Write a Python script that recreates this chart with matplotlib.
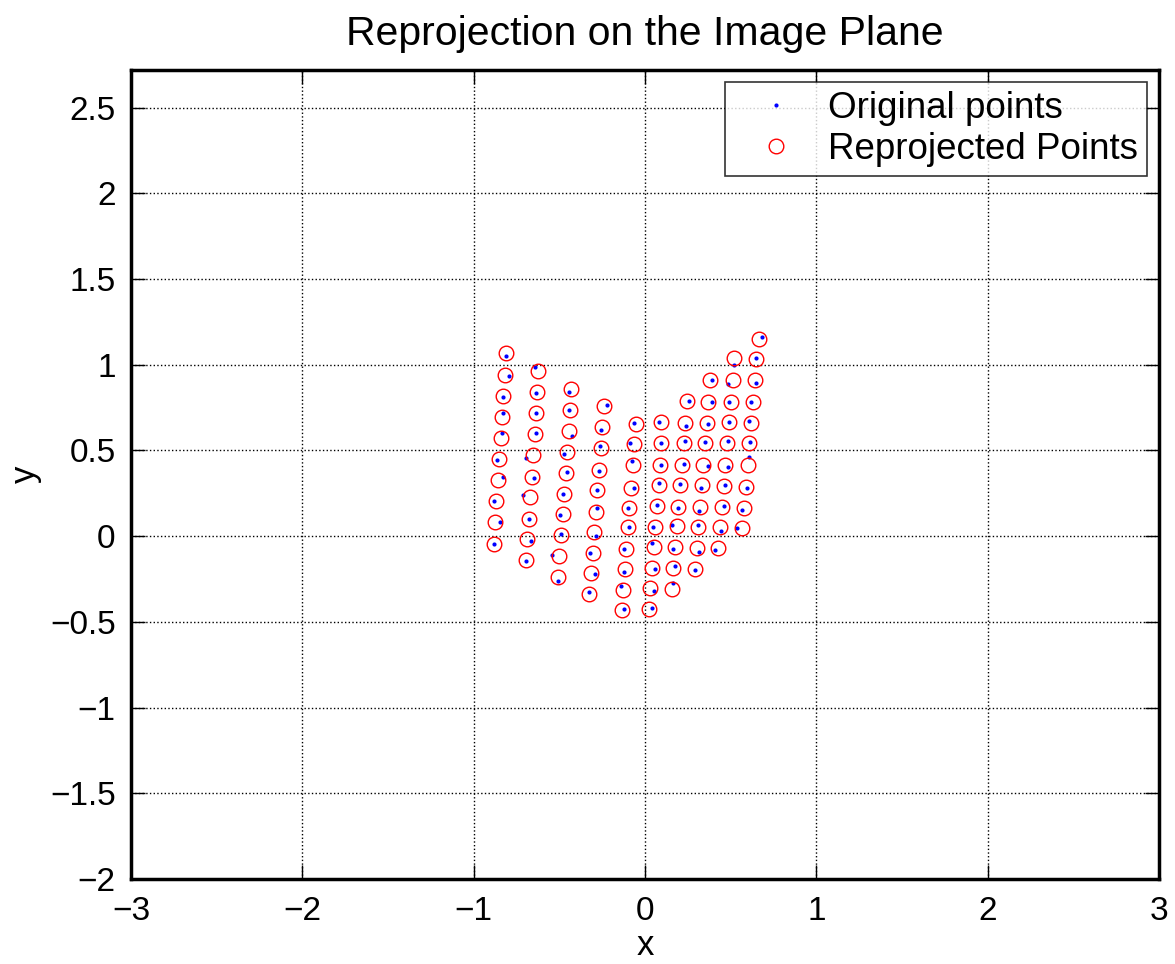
import numpy as np
import matplotlib.pyplot as plt

# reprojected points (red circles), column by column
circ_x = [
    -0.810, -0.818, -0.826, -0.834, -0.841, -0.850, -0.857, -0.867, -0.875, -0.882,
    -0.622, -0.628, -0.636, -0.643, -0.653, -0.661, -0.671, -0.676, -0.686, -0.694,
    -0.430, -0.437, -0.445, -0.457, -0.464, -0.471, -0.480, -0.492, -0.501, -0.509,
    -0.239, -0.251, -0.258, -0.267, -0.280, -0.286, -0.296, -0.303, -0.313, -0.325,
    -0.054, -0.064, -0.070, -0.080, -0.092, -0.101, -0.111, -0.118, -0.127, -0.136,
    0.095, 0.093, 0.087, 0.080, 0.070, 0.060, 0.051, 0.041, 0.031, 0.023,
    0.243, 0.235, 0.227, 0.214, 0.206, 0.194, 0.185, 0.177, 0.165, 0.157,
    0.379, 0.369, 0.362, 0.352, 0.340, 0.334, 0.321, 0.311, 0.303, 0.293,
    0.519, 0.511, 0.500, 0.490, 0.478, 0.466, 0.459, 0.451, 0.439, 0.427,
    0.663, 0.645, 0.640, 0.628, 0.620, 0.608, 0.599, 0.589, 0.579, 0.567,
]
circ_y = [
    1.069, 0.943, 0.818, 0.696, 0.573, 0.449, 0.327, 0.204, 0.083, -0.043,
    0.964, 0.841, 0.719, 0.595, 0.471, 0.346, 0.226, 0.103, -0.017, -0.138,
    0.861, 0.739, 0.614, 0.492, 0.371, 0.247, 0.127, 0.006, -0.117, -0.237,
    0.760, 0.636, 0.513, 0.389, 0.268, 0.142, 0.025, -0.097, -0.216, -0.338,
    0.655, 0.535, 0.414, 0.284, 0.165, 0.051, -0.072, -0.191, -0.315, -0.431,
    0.665, 0.541, 0.416, 0.301, 0.177, 0.052, -0.064, -0.187, -0.305, -0.422,
    0.787, 0.663, 0.542, 0.418, 0.297, 0.173, 0.057, -0.066, -0.187, -0.309,
    0.910, 0.785, 0.663, 0.544, 0.414, 0.297, 0.173, 0.054, -0.068, -0.191,
    1.038, 0.911, 0.783, 0.665, 0.541, 0.414, 0.292, 0.171, 0.051, -0.070,
    1.153, 1.034, 0.910, 0.781, 0.659, 0.542, 0.414, 0.287, 0.167, 0.048,
]

# original points (blue dots)
orig_x = [
    -0.812, -0.793, -0.826, -0.826, -0.836, -0.861, -0.830, -0.879, -0.845, -0.879,
    -0.640, -0.634, -0.636, -0.637, -0.692, -0.649, -0.715, -0.675, -0.663, -0.696,
    -0.441, -0.441, -0.427, -0.471, -0.453, -0.478, -0.494, -0.492, -0.542, -0.507,
    -0.223, -0.257, -0.262, -0.267, -0.282, -0.280, -0.287, -0.321, -0.290, -0.325,
    -0.064, -0.087, -0.078, -0.066, -0.101, -0.092, -0.122, -0.121, -0.142, -0.122,
    0.083, 0.093, 0.095, 0.083, 0.072, 0.045, 0.043, 0.060, 0.051, 0.041,
    0.258, 0.239, 0.233, 0.227, 0.206, 0.191, 0.159, 0.162, 0.175, 0.162,
    0.392, 0.392, 0.366, 0.352, 0.367, 0.327, 0.317, 0.311, 0.317, 0.292,
    0.519, 0.486, 0.492, 0.492, 0.486, 0.482, 0.466, 0.459, 0.441, 0.408,
    0.684, 0.645, 0.647, 0.616, 0.606, 0.614, 0.606, 0.593, 0.567, 0.536,
]
orig_y = [
    1.050, 0.935, 0.810, 0.719, 0.602, 0.447, 0.348, 0.204, 0.080, -0.043,
    0.985, 0.838, 0.721, 0.602, 0.455, 0.340, 0.241, 0.103, -0.029, -0.144,
    0.844, 0.739, 0.583, 0.482, 0.375, 0.247, 0.124, 0.010, -0.111, -0.262,
    0.768, 0.620, 0.527, 0.383, 0.268, 0.162, 0.002, -0.097, -0.222, -0.328,
    0.663, 0.541, 0.441, 0.280, 0.162, 0.051, -0.076, -0.208, -0.292, -0.427,
    0.669, 0.542, 0.418, 0.313, 0.181, 0.051, -0.039, -0.192, -0.321, -0.420,
    0.791, 0.641, 0.558, 0.420, 0.303, 0.167, 0.068, -0.074, -0.173, -0.276,
    0.911, 0.783, 0.655, 0.548, 0.408, 0.280, 0.146, 0.068, -0.095, -0.198,
    1.001, 0.886, 0.780, 0.666, 0.556, 0.404, 0.296, 0.177, 0.031, -0.083,
    1.160, 1.038, 0.896, 0.781, 0.671, 0.550, 0.462, 0.284, 0.152, 0.048,
]

plt.rcParams['font.family'] = ['Liberation Sans', 'DejaVu Sans']

fig = plt.figure(figsize=(11.75, 9.64), dpi=100)
ax = fig.add_axes([0.1115, 0.0882, 0.8749, 0.8392])

ax.plot(orig_x, orig_y, 'o', color='blue', markersize=3, markeredgewidth=0,
        label='Original points')
ax.plot(circ_x, circ_y, 'o', markerfacecolor='none', markeredgecolor='red',
        markersize=10.5, markeredgewidth=1.0, label='Reprojected Points')

ax.set_xlim(-3, 3)
ax.set_ylim(-2, 2.72)
ax.set_xticks(np.arange(-3, 3.1, 1))
ax.set_yticks(np.arange(-2, 2.6, 0.5))
ax.set_xticklabels(['\u22123', '\u22122', '\u22121', '0', '1', '2', '3'])
ax.set_yticklabels(['\u22122', '\u22121.5', '\u22121', '\u22120.5', '0', '0.5', '1', '1.5', '2', '2.5'])
ax.grid(True, linestyle=':', color='black', linewidth=1)
ax.tick_params(direction='in', length=10, width=1, top=True, right=True,
               labelsize=24)
ax.tick_params(axis='x', pad=12)
ax.tick_params(axis='y', pad=11)
for sp in ax.spines.values():
    sp.set_linewidth(2.5)

ax.set_title('Reprojection on the Image Plane', fontsize=29.5, pad=18)
ax.set_xlabel('x', fontsize=25, labelpad=2)
ax.set_ylabel('y', fontsize=25, labelpad=6)

leg = ax.legend(loc='upper right', fontsize=26.5, frameon=True, fancybox=False,
                edgecolor='black', borderaxespad=0.33, handletextpad=0.27,
                labelspacing=0.15, borderpad=0.25, handlelength=2.28)
leg.get_frame().set_linewidth(1.2)

fig.savefig('out.png', dpi=100)
